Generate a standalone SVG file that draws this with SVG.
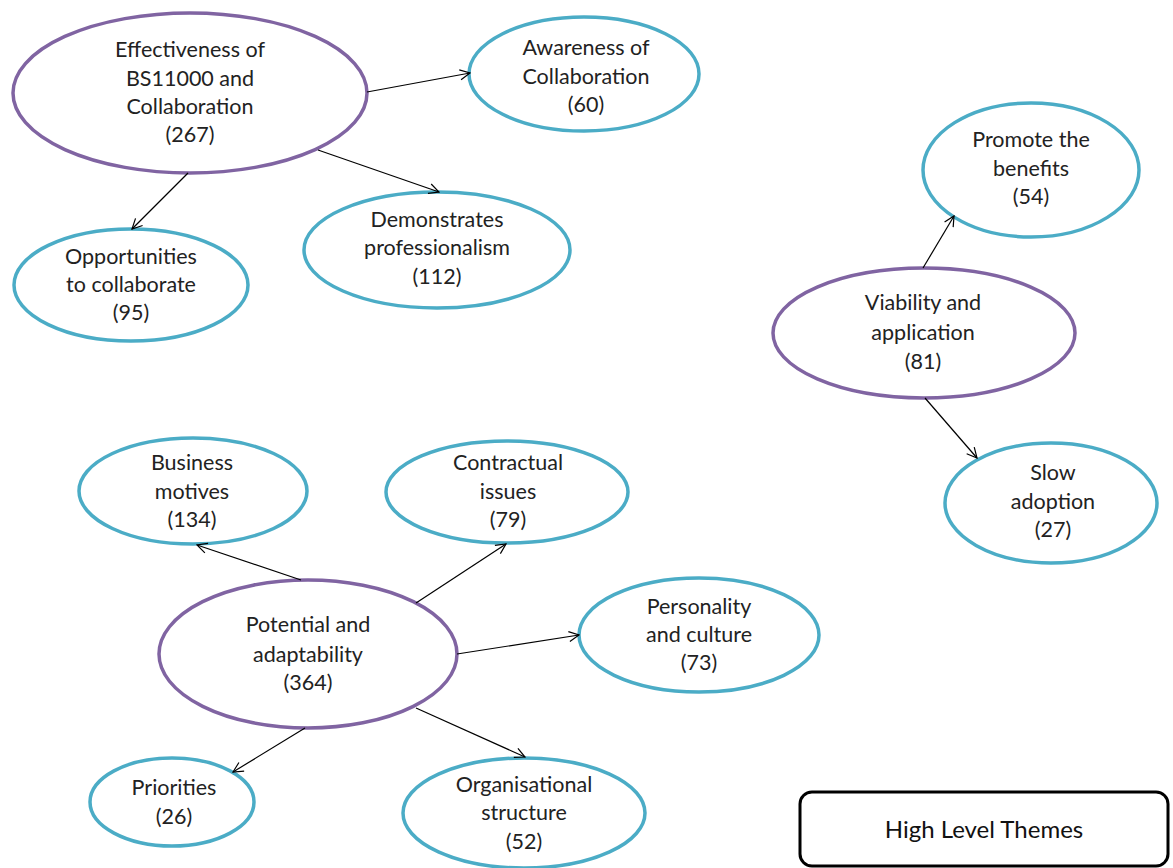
<svg xmlns="http://www.w3.org/2000/svg" width="1173" height="868" viewBox="0 0 1173 868">
  <defs>
    <marker id="arrow" markerWidth="12" markerHeight="12" refX="11" refY="6" orient="auto" markerUnits="userSpaceOnUse">
      <path d="M1,1 L11,6 L1,11" fill="none" stroke="#000" stroke-width="1.2"/>
    </marker>
    <style>
      .theme { fill: #fff; stroke: #8064A2; stroke-width: 3.5; }
      .sub { fill: #fff; stroke: #4BACC6; stroke-width: 3.5; }
      .label { font-family: Lato, "Open Sans", "Liberation Sans", sans-serif; font-size: 21.5px; fill: #222; text-anchor: middle; }
      .link { stroke: #000; stroke-width: 1.2; fill: none; marker-end: url(#arrow); }
    </style>
  </defs>
  <rect width="1173" height="868" fill="#fff"/>

  <!-- top-left theme -->
  <g id="effectiveness">
    <ellipse class="theme" cx="190" cy="93" rx="177" ry="80"/>
    <text class="label" x="190" y="57">Effectiveness of</text>
    <text class="label" x="190" y="86">BS11000 and</text>
    <text class="label" x="190" y="114">Collaboration</text>
    <text class="label" x="190" y="142">(267)</text>
  </g>

  <g id="awareness">
    <ellipse class="sub" cx="584" cy="74" rx="115" ry="57"/>
    <text class="label" x="586" y="55">Awareness of</text>
    <text class="label" x="586" y="84">Collaboration</text>
    <text class="label" x="586" y="112">(60)</text>
  </g>

  <g id="demonstrates">
    <ellipse class="sub" cx="437" cy="250" rx="133" ry="58"/>
    <text class="label" x="437" y="227">Demonstrates</text>
    <text class="label" x="437" y="255">professionalism</text>
    <text class="label" x="437" y="284">(112)</text>
  </g>

  <g id="opportunities">
    <ellipse class="sub" cx="131" cy="285" rx="117" ry="56"/>
    <text class="label" x="131" y="264">Opportunities</text>
    <text class="label" x="131" y="292">to collaborate</text>
    <text class="label" x="131" y="320">(95)</text>
  </g>

  <!-- right theme -->
  <g id="promote">
    <ellipse class="sub" cx="1031" cy="170" rx="108" ry="67"/>
    <text class="label" x="1031" y="147">Promote the</text>
    <text class="label" x="1031" y="176">benefits</text>
    <text class="label" x="1031" y="204">(54)</text>
  </g>

  <g id="viability">
    <ellipse class="theme" cx="924" cy="333" rx="151" ry="65"/>
    <text class="label" x="923" y="310">Viability and</text>
    <text class="label" x="923" y="340">application</text>
    <text class="label" x="923" y="369">(81)</text>
  </g>

  <g id="slow-adoption">
    <ellipse class="sub" cx="1051" cy="503" rx="106" ry="60"/>
    <text class="label" x="1053" y="480">Slow</text>
    <text class="label" x="1053" y="509">adoption</text>
    <text class="label" x="1053" y="537">(27)</text>
  </g>

  <!-- bottom theme -->
  <g id="business-motives">
    <ellipse class="sub" cx="193" cy="491" rx="114" ry="53"/>
    <text class="label" x="192" y="470">Business</text>
    <text class="label" x="192" y="499">motives</text>
    <text class="label" x="192" y="527">(134)</text>
  </g>

  <g id="contractual">
    <ellipse class="sub" cx="507" cy="492" rx="121" ry="51"/>
    <text class="label" x="508" y="470">Contractual</text>
    <text class="label" x="508" y="499">issues</text>
    <text class="label" x="508" y="527">(79)</text>
  </g>

  <g id="potential">
    <ellipse class="theme" cx="308" cy="654" rx="149" ry="74"/>
    <text class="label" x="308" y="632">Potential and</text>
    <text class="label" x="308" y="662">adaptability</text>
    <text class="label" x="308" y="690">(364)</text>
  </g>

  <g id="personality">
    <ellipse class="sub" cx="699" cy="635" rx="120" ry="57"/>
    <text class="label" x="699" y="614">Personality</text>
    <text class="label" x="699" y="642">and culture</text>
    <text class="label" x="699" y="670">(73)</text>
  </g>

  <g id="priorities">
    <ellipse class="sub" cx="172" cy="802" rx="82" ry="44"/>
    <text class="label" x="174" y="795">Priorities</text>
    <text class="label" x="174" y="824">(26)</text>
  </g>

  <g id="organisational">
    <ellipse class="sub" cx="524" cy="813" rx="121" ry="55"/>
    <text class="label" x="524" y="792">Organisational</text>
    <text class="label" x="524" y="820">structure</text>
    <text class="label" x="524" y="849">(52)</text>
  </g>

  <g id="legend">
    <rect x="800" y="792" width="368" height="74" rx="12" ry="12" fill="#fff" stroke="#000" stroke-width="3"/>
    <text x="984" y="838" font-family="Lato, 'Open Sans', 'Liberation Sans', sans-serif" font-size="24" fill="#111" text-anchor="middle">High Level Themes</text>
  </g>

  <!-- arrows drawn last so their heads sit on the ellipse outlines -->
  <g id="connectors">
    <line class="link" x1="367" y1="92" x2="470" y2="73"/>
    <line class="link" x1="318" y1="150" x2="439" y2="192"/>
    <line class="link" x1="188" y1="173" x2="132" y2="229"/>
    <line class="link" x1="923" y1="268" x2="954" y2="216"/>
    <line class="link" x1="925" y1="398" x2="977" y2="458"/>
    <line class="link" x1="301" y1="580" x2="197" y2="545"/>
    <line class="link" x1="416" y1="603" x2="506" y2="544"/>
    <line class="link" x1="457" y1="654" x2="579" y2="635"/>
    <line class="link" x1="305" y1="728" x2="233" y2="772"/>
    <line class="link" x1="416" y1="708" x2="525" y2="757"/>
  </g>
</svg>
